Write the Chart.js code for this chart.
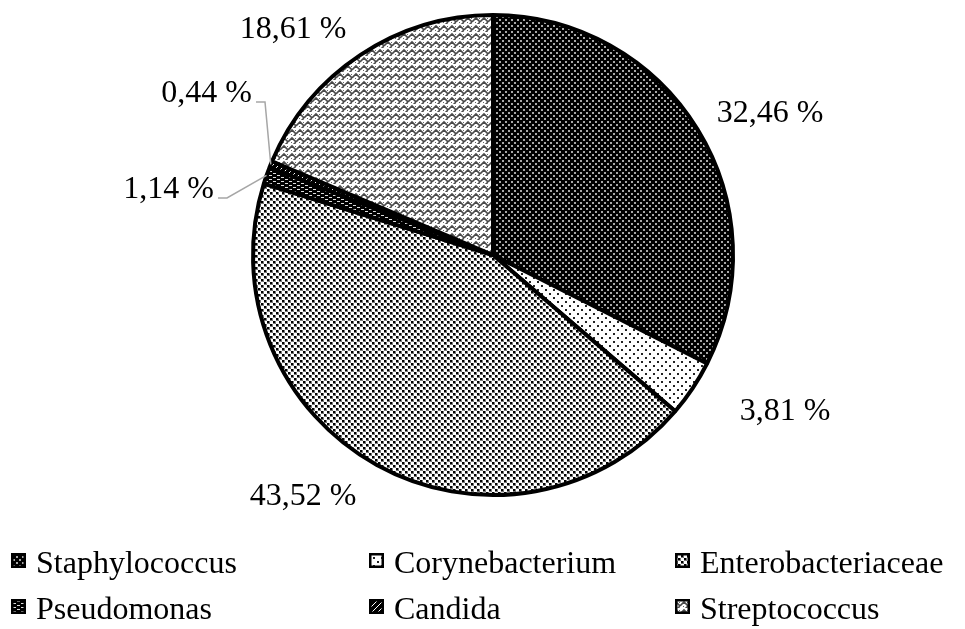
<!DOCTYPE html>
<html>
<head>
<meta charset="utf-8">
<script src="https://cdn.jsdelivr.net/npm/chart.js@4"></script>
<style>
  html, body { margin: 0; padding: 0; background: #fff; }
  canvas { display: block; }
</style>
</head>
<body>
<canvas id="pieChart" width="965" height="629"></canvas>
<script>
// --- data ---
const categories = ['Staphylococcus', 'Corynebacterium', 'Enterobacteriaceae', 'Pseudomonas', 'Candida', 'Streptococcus'];
const shares = [32.46, 3.81, 43.52, 1.14, 0.44, 18.61];
const shareLabels = ['32,46 %', '3,81 %', '43,52 %', '1,14 %', '0,44 %', '18,61 %'];

// label text placement relative to the pie centre: [dx, dy, align, leader line]
const labelPlacement = [
  [277, -133, 'center', false],
  [292, 165, 'center', false],
  [-190, 250, 'center', false],
  [-279, -57, 'right', true],
  [-241, -153, 'right', true],
  [-200, -217, 'center', false]
];

const FONT = '32px "Liberation Serif", "Times New Roman", serif';

// small tiles -> canvas patterns (black & white print look)
function makePattern(w, h, draw) {
  const c = document.createElement('canvas');
  c.width = w; c.height = h;
  const g = c.getContext('2d');
  draw(g, w, h);
  return document.getElementById('pieChart').getContext('2d').createPattern(c, 'repeat');
}

const patterns = [
  // Staphylococcus: black with light dots
  makePattern(6, 6, (g) => {
    g.fillStyle = '#000'; g.fillRect(0, 0, 6, 6);
    g.fillStyle = '#a8a8a8';
    g.fillRect(1, 1, 2, 2); g.fillRect(4, 4, 2, 2);
  }),
  // Corynebacterium: white with sparse dots
  makePattern(8, 8, (g) => {
    g.fillStyle = '#fff'; g.fillRect(0, 0, 8, 8);
    g.fillStyle = '#222';
    g.fillRect(1, 1, 2, 2); g.fillRect(5, 5, 2, 2);
  }),
  // Enterobacteriaceae: white with dense black squares
  makePattern(6, 6, (g) => {
    g.fillStyle = '#fff'; g.fillRect(0, 0, 6, 6);
    g.fillStyle = '#777';
    g.fillRect(0, 0, 3, 3); g.fillRect(3, 3, 3, 3);
    g.fillStyle = '#000';
    g.fillRect(0, 0, 2, 2); g.fillRect(3, 3, 2, 2);
  }),
  // Pseudomonas: black with short white dashes
  makePattern(8, 4, (g) => {
    g.fillStyle = '#000'; g.fillRect(0, 0, 8, 4);
    g.fillStyle = '#ddd';
    g.fillRect(1, 1, 3, 1); g.fillRect(5, 3, 3, 1);
  }),
  // Candida: dark diagonal hatch
  makePattern(6, 6, (g) => {
    g.fillStyle = '#000'; g.fillRect(0, 0, 6, 6);
    g.strokeStyle = '#fff'; g.lineWidth = 1;
    g.beginPath(); g.moveTo(0, 6); g.lineTo(6, 0); g.stroke();
  }),
  // Streptococcus: grey weave
  makePattern(8, 8, (g) => {
    g.fillStyle = '#fff'; g.fillRect(0, 0, 8, 8);
    g.strokeStyle = '#4a4a4a'; g.lineWidth = 1.6;
    g.beginPath();
    g.moveTo(0, 6); g.lineTo(4, 2); g.lineTo(8, 6);
    g.moveTo(-4, 2); g.lineTo(0, -2);
    g.moveTo(4, 10); g.lineTo(8, 6);
    g.moveTo(0, 6); g.lineTo(-2, 4);
    g.stroke();
    g.fillStyle = '#666';
    g.fillRect(3, 6, 1, 1); g.fillRect(7, 2, 1, 1);
  })
];

const decorPlugin = {
  id: 'decor',
  afterDatasetsDraw(chart) {
    const ctx = chart.ctx;
    const arcs = chart.getDatasetMeta(0).data;
    ctx.save();
    ctx.font = FONT;
    ctx.fillStyle = '#000';
    ctx.textBaseline = 'alphabetic';
    arcs.forEach((arc, i) => {
      const [dx, dy, align, leader] = labelPlacement[i];
      const x = arc.x + dx, y = arc.y + dy;
      ctx.textAlign = align;
      ctx.fillText(shareLabels[i], x, y);
      if (leader) {
        const mid = (arc.startAngle + arc.endAngle) / 2;
        const ex = arc.x + Math.cos(mid) * arc.outerRadius;
        const ey = arc.y + Math.sin(mid) * arc.outerRadius;
        ctx.strokeStyle = '#a6a6a6';
        ctx.lineWidth = 1.5;
        ctx.beginPath();
        ctx.moveTo(x + 4, y);
        ctx.lineTo(x + 13, y);
        ctx.lineTo(ex, ey);
        ctx.stroke();
      }
    });

    // legend: 3 columns, 2 rows
    const colX = [11, 369, 675];
    const rowY = [573, 619];
    ctx.textAlign = 'left';
    categories.forEach((name, i) => {
      const mx = colX[i % 3], by = rowY[Math.floor(i / 3)];
      ctx.fillStyle = patterns[i];
      ctx.fillRect(mx, by - 20, 15, 15);
      ctx.strokeStyle = '#000';
      ctx.lineWidth = 2.5;
      ctx.strokeRect(mx + 1.25, by - 18.75, 12.5, 12.5);
      ctx.fillStyle = '#000';
      ctx.fillText(name, mx + 25, by);
    });
    ctx.restore();
  }
};

new Chart(document.getElementById('pieChart'), {
  type: 'pie',
  data: {
    labels: categories,
    datasets: [{
      data: shares,
      backgroundColor: patterns,
      borderColor: '#000',
      borderWidth: 4
    }]
  },
  options: {
    responsive: false,
    animation: false,
    layout: { padding: { top: 13, bottom: 132, left: 251, right: 230 } },
    plugins: {
      legend: { display: false },
      tooltip: { enabled: false }
    }
  },
  plugins: [decorPlugin]
});
</script>
</body>
</html>
